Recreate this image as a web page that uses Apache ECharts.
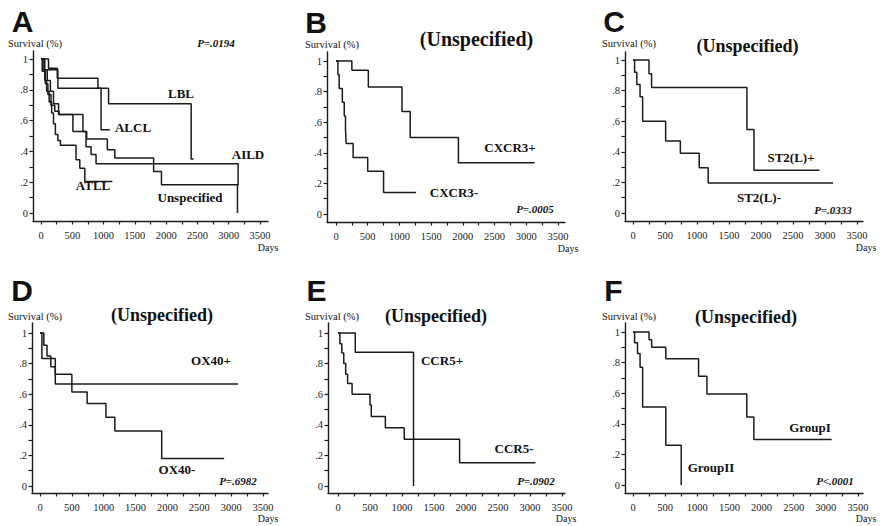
<!DOCTYPE html>
<html><head><meta charset="utf-8">
<script src="https://cdn.jsdelivr.net/npm/echarts@6/dist/echarts.min.js"></script>
<style>html,body{margin:0;padding:0;background:#fff}#c{width:880px;height:526px}</style>
</head><body><div id="c"></div>
<script>
// ---- tick labels ----
const xTickLabels = [0, 500, 1000, 1500, 2000, 2500, 3000, 3500];
const xTickMarks = [0, 250, 500, 750, 1000, 1250, 1500, 1750, 2000, 2250, 2500, 2750, 3000, 3250, 3500];
const yTickLabels = [0, 0.2, 0.4, 0.6, 0.8, 1];
const yTickMarks = [0, 0.1, 0.2, 0.3, 0.4, 0.5, 0.6, 0.7, 0.8, 0.9, 1];

// ---- survival data: [day, survival after event] ----
// Panel A
const lbl = [[0,1],[120,0.94],[260,0.875],[910,0.81],[1080,0.71],[2400,0.35],[2440,0.35]];
const alcl = [[0,1],[60,0.93],[270,0.81],[960,0.54],[1100,0.54]];
const atll = [[0,1],[30,0.93],[60,0.86],[90,0.79],[130,0.72],[170,0.65],[200,0.58],[230,0.51],[270,0.47],[310,0.44],[560,0.345],[620,0.29],[700,0.205],[1140,0.205]];
const aild = [[0,1],[50,0.93],[100,0.86],[150,0.79],[200,0.71],[280,0.64],[510,0.53],[720,0.43],[800,0.38],[880,0.32],[3150,0.18]];
const unspecified = [[0,1],[20,0.92],[70,0.84],[110,0.77],[160,0.70],[220,0.66],[290,0.64],[670,0.53],[730,0.48],[1060,0.41],[1180,0.357],[1800,0.27],[1925,0.183],[3140,0]];
// Panel B
const cxcr3Pos = [[0,1],[250,0.94],[510,0.83],[1040,0.67],[1170,0.5],[1930,0.335],[3130,0.335]];
const cxcr3Neg = [[0,1],[30,0.91],[50,0.82],[100,0.73],[130,0.64],[150,0.55],[160,0.46],[270,0.37],[500,0.28],[750,0.14],[1260,0.14]];
// Panel C
const st2Pos = [[0,1],[250,0.91],[290,0.82],[1780,0.545],[1890,0.28],[2915,0.28]];
const st2Neg = [[0,1],[25,0.92],[60,0.84],[110,0.76],[150,0.60],[510,0.47],[740,0.39],[1035,0.295],[1175,0.196],[3125,0.196]];
// Panel D
const ox40Pos = [[0,1],[30,0.833],[240,0.667],[3110,0.667]];
const ox40Neg = [[0,1],[60,0.92],[110,0.85],[170,0.78],[240,0.73],[500,0.615],[740,0.54],[1035,0.45],[1175,0.36],[1910,0.18],[2890,0.18]];
// Panel E
const ccr5Pos = [[0,1],[270,0.875],[1180,0]];
const ccr5Neg = [[0,1],[30,0.93],[60,0.87],[90,0.80],[120,0.73],[150,0.67],[220,0.60],[500,0.53],[520,0.455],[740,0.38],[1035,0.305],[1900,0.152],[3085,0.152]];
// Panel F
const group1 = [[0,1],[250,0.95],[290,0.90],[510,0.825],[1020,0.71],[1150,0.595],[1770,0.445],[1880,0.297],[3090,0.297]];
const group2 = [[0,1],[25,0.93],[70,0.86],[110,0.77],[150,0.51],[510,0.26],[750,0]];

// ---- texts ----
const panelLetters = ['A','B','C','D','E','F'];
const subtitles = ['', '(Unspecified)', '(Unspecified)', '(Unspecified)', '(Unspecified)', '(Unspecified)'];
const pValues = ['P=.0194','P=.0005','P=.0333','P=.6982','P=.0902','P<.0001'];
const curveNames = [
  ['LBL','ALCL','AILD','ATLL','Unspecified'],
  ['CXCR3+','CXCR3-'],
  ['ST2(L)+','ST2(L)-'],
  ['OX40+','OX40-'],
  ['CCR5+','CCR5-'],
  ['GroupI','GroupII']
];
const curves = [
  [lbl, alcl, aild, atll, unspecified],
  [cxcr3Pos, cxcr3Neg],
  [st2Pos, st2Neg],
  [ox40Pos, ox40Neg],
  [ccr5Pos, ccr5Neg],
  [group1, group2]
];

// ---- layout (pixels) ----
const layouts = [
  {x0:41, x1:260, y1:59, y0:213, l:33, r:268, t:51, b:221},
  {x0:336,x1:558, y1:61, y0:214, l:327,r:565, t:52, b:222},
  {x0:633,x1:857, y1:60, y0:213, l:625,r:863, t:52, b:221},
  {x0:40, x1:263, y1:333,y0:486, l:32, r:268, t:323,b:493},
  {x0:338,x1:562, y1:333,y0:486, l:328,r:565, t:323,b:493},
  {x0:633,x1:858, y1:332,y0:485, l:625,r:863, t:323,b:493}
];
const letterPos = [[22.5,21.5],[316,22],[614,21],[22,290],[316.5,290],[613.5,290]];
const subPos = [null,[476.5,39,20],[747.5,46,18],[162,315,18],[436,316,18],[746,317,18]];
const survPos = [[35,43],[332,44],[629,43],[35,316],[332,316],[629,316]];
const daysPos = [[268,247],[568,248],[866,247],[268,518],[566,518],[866,518]];
const pPos = [[216,43],[535,209],[833,210],[238,481],[536,481],[835,481]];
const namePos = [
  [[181,93],[133,127],[248,154],[93,185],[190,197]],
  [[510,147],[454,192]],
  [[791,157],[759,197]],
  [[211,360],[177,469]],
  [[442,360],[514,448]],
  [[810,427],[711,467]]
];

const SERIF = '"Liberation Serif","Times New Roman",serif';
const SANS = '"Liberation Sans",Arial,sans-serif';
const INK = '#1b1b1b';

const grids = [], xAxes = [], yAxes = [], series = [], graphics = [];
layouts.forEach((L, i) => {
  grids.push({left: L.l, top: L.t, width: L.r - L.l, height: L.b - L.t, containLabel: false});
  const xs = 3500 / (L.x1 - L.x0);
  const ys = 1 / (L.y0 - L.y1);
  xAxes.push({
    type: 'value', gridIndex: i,
    min: (L.l - L.x0) * xs, max: (L.r - L.x0) * xs,
    splitLine: {show: false},
    axisLine: {show: true, onZero: false, lineStyle: {color: INK, width: 1.4}},
    axisTick: {show: true, length: 3.5, customValues: xTickMarks, lineStyle: {color: INK, width: 1.2}},
    axisLabel: {customValues: xTickLabels, color: '#222', fontFamily: SERIF, fontSize: 10.5, margin: 9,
                formatter: v => String(Math.round(v))}
  });
  yAxes.push({
    type: 'value', gridIndex: i,
    min: (L.y0 - L.b) * ys, max: (L.y0 - L.t) * ys,
    splitLine: {show: false},
    axisLine: {show: true, onZero: false, lineStyle: {color: INK, width: 1.4}},
    axisTick: {show: true, length: 3.5, customValues: yTickMarks, lineStyle: {color: INK, width: 1.2}},
    axisLabel: {
      customValues: yTickLabels, color: '#222', fontFamily: SERIF, fontSize: 10.5, margin: 5,
      formatter: v => (Math.abs(v - 1) < 1e-9 ? '1' : (Math.abs(v) < 1e-9 ? '0' : '.' + Math.round(v * 10)))
    }
  });
  curves[i].forEach((d, k) => {
    series.push({
      type: 'line', name: curveNames[i][k], xAxisIndex: i, yAxisIndex: i,
      data: d, step: 'end', showSymbol: false, symbol: 'none', silent: true, animation: false,
      lineStyle: {color: INK, width: 1.5}
    });
  });
  const txt = (x, y, text, font, lh) => graphics.push({
    type: 'text', x: x, y: y, silent: true,
    style: {text: text, font: font, fill: '#111', align: 'center', verticalAlign: 'middle',
            textAlign: 'center', textVerticalAlign: 'middle', lineHeight: lh}
  });
  txt(letterPos[i][0], letterPos[i][1], panelLetters[i], 'bold 30px ' + SANS, 24);
  if (subPos[i]) txt(subPos[i][0], subPos[i][1], subtitles[i], 'bold ' + subPos[i][2] + 'px ' + SERIF, subPos[i][2]);
  txt(survPos[i][0], survPos[i][1], 'Survival (%)', '10.5px ' + SERIF, 11);
  txt(daysPos[i][0], daysPos[i][1], 'Days', '10px ' + SERIF, 10);
  txt(pPos[i][0], pPos[i][1], pValues[i], 'italic bold 11px ' + SERIF, 11);
  namePos[i].forEach((p, k) => txt(p[0], p[1], curveNames[i][k], 'bold 13px ' + SERIF, 13));
});

const chart = echarts.init(document.getElementById('c'), null, {renderer: 'svg'});
chart.setOption({
  animation: false,
  backgroundColor: '#fff',
  grid: grids, xAxis: xAxes, yAxis: yAxes, series: series,
  graphic: {elements: graphics}
});
</script></body></html>
